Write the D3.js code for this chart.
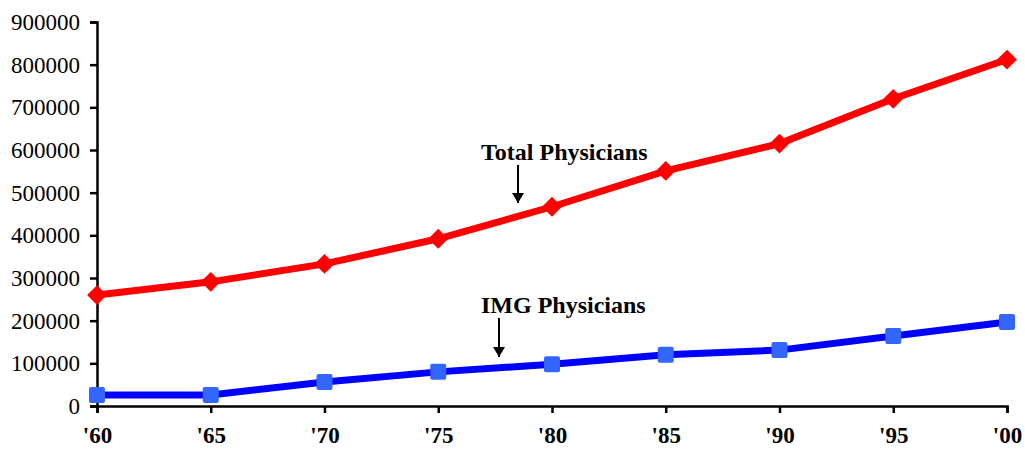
<!DOCTYPE html>
<html>
<head>
<meta charset="utf-8">
<script src="https://cdn.jsdelivr.net/npm/d3@7"></script>
<style>
  html, body { margin: 0; padding: 0; background: #fff; }
  svg { display: block; }
  text { font-family: "Liberation Serif", "Times New Roman", serif; fill: #000; }
</style>
</head>
<body>
<div id="chart"></div>
<script>
// Physician counts by year
const years = ["'60", "'65", "'70", "'75", "'80", "'85", "'90", "'95", "'00"];
const totalPhysicians = [260000, 291000, 333000, 392000, 467000, 551000, 615000, 720000, 812000];
const imgPhysicians = [26000, 26000, 56000, 80000, 98000, 120000, 131000, 164000, 197000];
const yTicks = [0, 100000, 200000, 300000, 400000, 500000, 600000, 700000, 800000, 900000];

const width = 1025, height = 449;
const margin = { left: 97, right: 18, top: 22, bottom: 43 };

const svg = d3.select('#chart').append('svg')
  .attr('width', width)
  .attr('height', height);

const x = d3.scalePoint()
  .domain(years)
  .range([margin.left, width - margin.right]);

const y = d3.scaleLinear()
  .domain([0, 900000])
  .range([height - margin.bottom, margin.top]);

// Axes
const yAxis = svg.append('g')
  .attr('transform', `translate(${margin.left},0)`)
  .call(d3.axisLeft(y).tickValues(yTicks).tickSize(7).tickPadding(10).tickFormat(d3.format('d')));

const xAxis = svg.append('g')
  .attr('transform', `translate(0,${y(0)})`)
  .call(d3.axisBottom(x).tickSize(7).tickPadding(14));

[yAxis, xAxis].forEach(a => {
  a.select('.domain').attr('stroke', '#000').attr('stroke-width', 2.5);
  a.selectAll('.tick line').attr('stroke', '#000').attr('stroke-width', 2.5);
});
yAxis.selectAll('text').style('font-size', '23px');
xAxis.selectAll('text').style('font-size', '23px').style('font-weight', 'bold');

// Lines
const line = d3.line()
  .x((d, i) => x(years[i]))
  .y(d => y(d));

svg.append('path')
  .datum(totalPhysicians)
  .attr('fill', 'none')
  .attr('stroke', '#ff0000')
  .attr('stroke-width', 7)
  .attr('d', line);

svg.append('path')
  .datum(imgPhysicians)
  .attr('fill', 'none')
  .attr('stroke', '#0000ff')
  .attr('stroke-width', 7)
  .attr('d', line);

// Markers: red diamonds (rotated squares), blue squares
const square = d3.symbol().type(d3.symbolSquare).size(196);
svg.append('g').selectAll('path')
  .data(totalPhysicians)
  .join('path')
  .attr('d', square)
  .attr('transform', (d, i) => `translate(${x(years[i])},${y(d)}) rotate(45)`)
  .attr('fill', '#ff0000');

svg.append('g').selectAll('rect')
  .data(imgPhysicians)
  .join('rect')
  .attr('x', (d, i) => x(years[i]) - 8)
  .attr('y', d => y(d) - 8)
  .attr('width', 16)
  .attr('height', 16)
  .attr('rx', 2)
  .attr('fill', '#3366ff');

// Annotations
svg.append('defs').append('marker')
  .attr('id', 'arrow')
  .attr('viewBox', '0 0 10 12')
  .attr('refX', 10).attr('refY', 6)
  .attr('markerWidth', 12).attr('markerHeight', 12)
  .attr('markerUnits', 'userSpaceOnUse')
  .attr('orient', 'auto')
  .append('path')
  .attr('d', 'M0,0 L10,6 L0,12 Z')
  .attr('fill', '#000');

function label(txt, tx, ty, ax, ay1, ay2) {
  svg.append('text')
    .attr('x', tx).attr('y', ty)
    .style('font-size', '24px')
    .style('font-weight', 'bold')
    .text(txt);
  svg.append('line')
    .attr('x1', ax).attr('y1', ay1)
    .attr('x2', ax).attr('y2', ay2)
    .attr('stroke', '#000')
    .attr('stroke-width', 2)
    .attr('marker-end', 'url(#arrow)');
}

label('Total Physicians', 481, 160, 518, 165, 203);
label('IMG Physicians', 481, 313, 499, 318, 357);
</script>
</body>
</html>
